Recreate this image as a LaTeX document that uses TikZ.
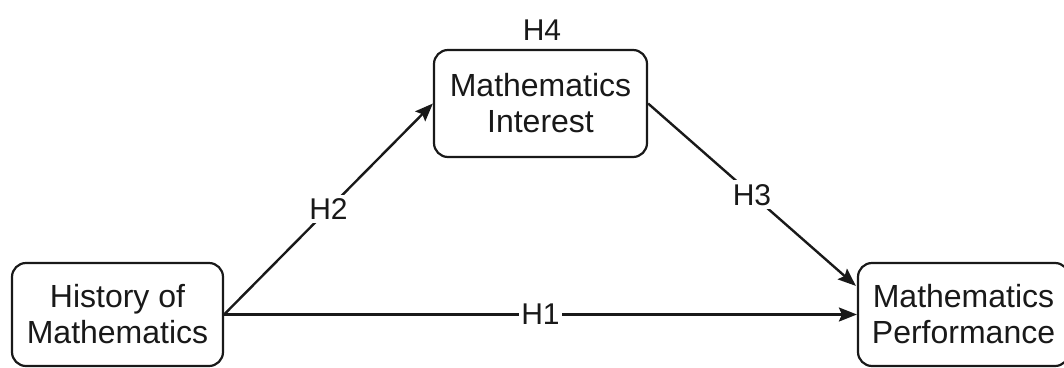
\documentclass[tikz,border=0pt]{standalone}
\usepackage{fontspec}
\setmainfont{Liberation Sans}
\usetikzlibrary{arrows.meta,calc}
\begin{document}
\begin{tikzpicture}[x=1pt,y=-1pt,
  box/.style={draw=black!90, line width=2.2pt, rounded corners=14pt, fill=white,
    minimum width=211pt, minimum height=103pt, align=center, inner sep=0pt,
    font=\fontsize{32}{36}\selectfont, text=black!90},
  conn/.style={draw=black!90, line width=2.4pt, -{Stealth[length=18pt,width=14pt,inset=3pt]}},
  lbl/.style={fill=white, inner sep=4pt, font=\fontsize{30}{34}\selectfont, text=black!90}]
\clip (0,0) rectangle (1064,367);
\useasboundingbox (0,0) rectangle (1064,367);
\node[box] (L) at (117.5,314.5) {History of\\Mathematics};
\node[box, minimum width=213pt, minimum height=107pt] (M) at (540.5,103.5) {Mathematics\\Interest};
\node[box] (R) at (963.5,314.5) {Mathematics\\Performance};
\node[lbl, fill=none] (H4) at (542,30) {H4};
\coordinate (Rin) at ($(R.north west)+(-1pt,-24pt)$);
\draw[conn] (L.east) -- node[lbl, inner sep=2pt] (H1) {H1} (R.west);
\draw[conn] (L.east) -- node[lbl] (H2) {H2} (M.west);
\draw[conn] (M.east) -- node[lbl] (H3) {H3} (Rin);
\end{tikzpicture}
\end{document}
